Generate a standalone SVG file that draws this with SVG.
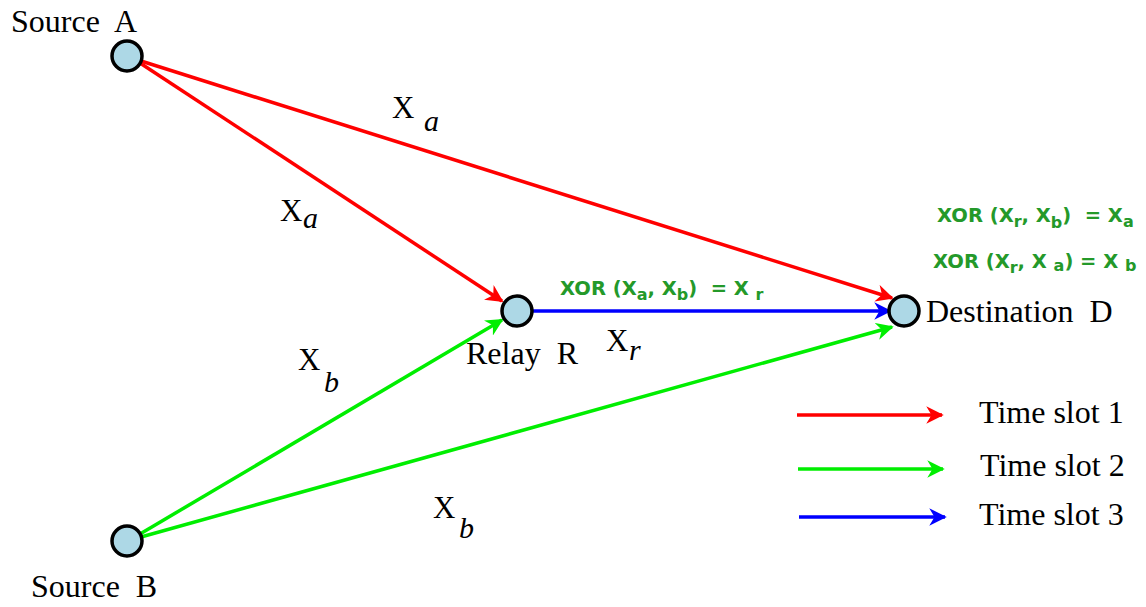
<svg xmlns="http://www.w3.org/2000/svg" width="1146" height="607" viewBox="0 0 1146 607">
<style>
.lbl{font-family:"Liberation Serif",serif;font-size:32px;fill:#000;white-space:pre}
.sub{font-family:"Liberation Serif",serif;font-size:30px;font-style:italic;fill:#000}
.xl{font-family:"Liberation Serif",serif;font-size:31px;fill:#000}
.xor{font-family:"DejaVu Sans",sans-serif;font-size:19.5px;font-weight:bold;fill:#24992a;white-space:pre}
.xs{font-size:16px}
.node{fill:#add8e6;stroke:#000;stroke-width:3.5}
.r{stroke:#ff0000;stroke-width:3.5;fill:none}
.g{stroke:#00ee00;stroke-width:3.5;fill:none}
.b{stroke:#0000ff;stroke-width:3.5;fill:none}
</style>
<defs>
<marker id="ar" viewBox="0 0 10 10" refX="9" refY="5" markerWidth="5" markerHeight="5" orient="auto" markerUnits="strokeWidth"><path d="M0,0 L10,5 L0,10 L3,5 Z" fill="#ff0000"/></marker>
<marker id="ag" viewBox="0 0 10 10" refX="9" refY="5" markerWidth="5" markerHeight="5" orient="auto" markerUnits="strokeWidth"><path d="M0,0 L10,5 L0,10 L3,5 Z" fill="#00ee00"/></marker>
<marker id="ab" viewBox="0 0 10 10" refX="9" refY="5" markerWidth="5" markerHeight="5" orient="auto" markerUnits="strokeWidth"><path d="M0,0 L10,5 L0,10 L3,5 Z" fill="#0000ff"/></marker>
</defs>
<g id="connectors">
<line class="r" x1="140" y1="63" x2="502" y2="301" marker-end="url(#ar)"/>
<line class="r" x1="141" y1="61" x2="892" y2="298" marker-end="url(#ar)"/>
<line class="g" x1="140" y1="534" x2="502" y2="320" marker-end="url(#ag)"/>
<line class="g" x1="141" y1="537" x2="892" y2="327" marker-end="url(#ag)"/>
<line class="b" x1="533" y1="311" x2="890" y2="311" marker-end="url(#ab)"/>
<text class="xl" x="392" y="118">X</text><text class="sub" x="424" y="131">a</text>
<text class="xl" x="280" y="221">X</text><text class="sub" x="303" y="228">a</text>
<text class="xl" x="298" y="370">X</text><text class="sub" x="324" y="392">b</text>
<text class="xl" x="433" y="518">X</text><text class="sub" x="459" y="538">b</text>
<text class="xl" x="606" y="351">X</text><text class="sub" x="629" y="360">r</text>
</g>
<g id="nodeA"><circle class="node" cx="127" cy="56" r="15"/><text class="lbl" x="11" y="32">Source  A</text></g>
<g id="nodeB"><circle class="node" cx="127" cy="541" r="15"/><text class="lbl" x="31" y="597">Source  B</text></g>
<g id="nodeR"><circle class="node" cx="517" cy="311" r="15"/><text class="lbl" x="466" y="364">Relay  R</text></g>
<g id="nodeD"><circle class="node" cx="904" cy="311" r="15"/><text class="lbl" x="926" y="322">Destination  D</text></g>
<g id="eq">
<text class="xor" x="560" y="295">XOR (X<tspan class="xs" dy="5">a</tspan><tspan dy="-5">, X</tspan><tspan class="xs" dy="5">b</tspan><tspan dy="-5">)  = X </tspan><tspan class="xs" dy="5">r</tspan></text>
<text class="xor" x="937" y="222">XOR (X<tspan class="xs" dy="5">r</tspan><tspan dy="-5">, X</tspan><tspan class="xs" dy="6">b</tspan><tspan dy="-6">)  = X</tspan><tspan class="xs" dy="5">a</tspan></text>
<text class="xor" x="933" y="268">XOR (X<tspan class="xs" dy="5">r</tspan><tspan dy="-5">, X </tspan><tspan class="xs" dy="3">a</tspan><tspan dy="-3">) = X </tspan><tspan class="xs" dy="3">b</tspan></text>
</g>
<g id="legend">
<line class="r" x1="797" y1="415" x2="942" y2="415" marker-end="url(#ar)"/>
<line class="g" x1="798" y1="469" x2="943" y2="469" marker-end="url(#ag)"/>
<line class="b" x1="799" y1="517" x2="945" y2="517" marker-end="url(#ab)"/>
<text class="lbl" x="979" y="423">Time slot 1</text>
<text class="lbl" x="980" y="476">Time slot 2</text>
<text class="lbl" x="979" y="525">Time slot 3</text>
</g>
</svg>
